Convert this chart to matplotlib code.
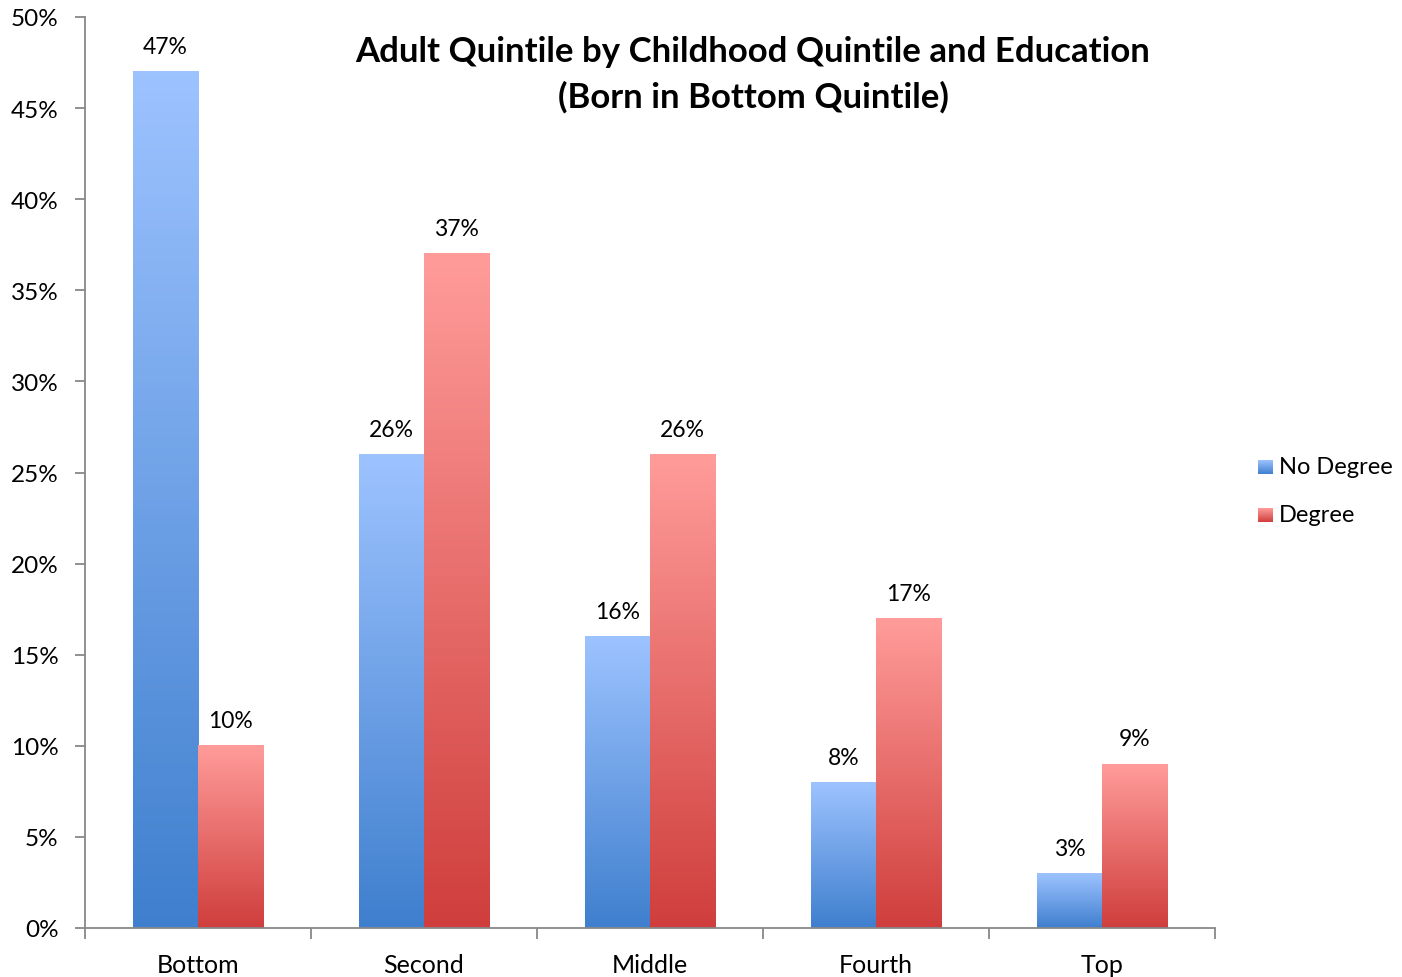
import numpy as np
import matplotlib
matplotlib.use("Agg")
import matplotlib.pyplot as plt
from matplotlib.colors import LinearSegmentedColormap
from matplotlib.ticker import FixedLocator

# Share of adults (%) landing in each adult quintile, born in bottom quintile
quintiles = ["Bottom", "Second", "Middle", "Fourth", "Top"]
no_degree = [47, 26, 16, 8, 3]
degree = [10, 37, 26, 17, 9]
series_names = ["No Degree", "Degree"]
y_ticks = [0, 5, 10, 15, 20, 25, 30, 35, 40, 45, 50]

plt.rcParams["font.family"] = ["Lato", "DejaVu Sans"]

blue_cmap = LinearSegmentedColormap.from_list("blue_grad", ["#3F7FCE", "#9DC3FF"])
red_cmap = LinearSegmentedColormap.from_list("red_grad", ["#CF3E3C", "#FF9C9A"])

fig = plt.figure(figsize=(14.02, 9.78), dpi=100)
ax = fig.add_axes([85 / 1402, 1 - 929 / 978, 1130 / 1402, 911 / 978])

width = 0.288
grad = np.linspace(0, 1, 256).reshape(-1, 1)


def gradient_bar(x0, h, cmap):
    ax.imshow(grad, cmap=cmap, origin="lower", aspect="auto",
              extent=[x0, x0 + width, 0, h], zorder=2)


x = np.arange(len(quintiles))
for i in range(len(quintiles)):
    gradient_bar(x[i] - width, no_degree[i], blue_cmap)
    gradient_bar(x[i], degree[i], red_cmap)
    ax.text(x[i] - width / 2, no_degree[i] + 0.8, f"{no_degree[i]}%",
            ha="center", va="bottom", fontsize=16.5)
    ax.text(x[i] + width / 2, degree[i] + 0.8, f"{degree[i]}%",
            ha="center", va="bottom", fontsize=16.5)

ax.set_xlim(-0.5, len(quintiles) - 0.5)
ax.set_ylim(0, 50)

# axis styling
for s in ["top", "right"]:
    ax.spines[s].set_visible(False)
for s in ["left", "bottom"]:
    ax.spines[s].set_color("#888888")
    ax.spines[s].set_linewidth(1.3)

ax.set_yticks(y_ticks)
ax.set_yticklabels([f"{v}%" for v in y_ticks], fontsize=17.5)
ax.tick_params(axis="y", direction="out", length=7, color="#888888", width=1.3, pad=12)

ax.set_xticks(x)
ax.set_xticklabels(quintiles, fontsize=18)
ax.tick_params(axis="x", which="major", length=0, pad=18)
ax.xaxis.set_minor_locator(FixedLocator(np.arange(-0.5, len(quintiles), 1.0)))
ax.tick_params(axis="x", which="minor", direction="out", length=8,
               color="#888888", width=1.3)

fig.text(753 / 1402, 1 - 52 / 978,
         "Adult Quintile by Childhood Quintile and Education",
         ha="center", va="center", fontsize=25, fontweight="bold")
fig.text(753 / 1402, 1 - 97 / 978, "(Born in Bottom Quintile)",
         ha="center", va="center", fontsize=25, fontweight="bold")

# legend with gradient swatches
for name, cmap, yc in [(series_names[0], blue_cmap, 468), (series_names[1], red_cmap, 516)]:
    sw = fig.add_axes([1258 / 1402, 1 - (yc + 7) / 978, 15 / 1402, 14 / 978])
    sw.imshow(grad, cmap=cmap, origin="lower", aspect="auto")
    sw.set_axis_off()
    fig.text(1279 / 1402, 1 - yc / 978, name, ha="left", va="center", fontsize=17)

fig.savefig("out.png", dpi=100)
